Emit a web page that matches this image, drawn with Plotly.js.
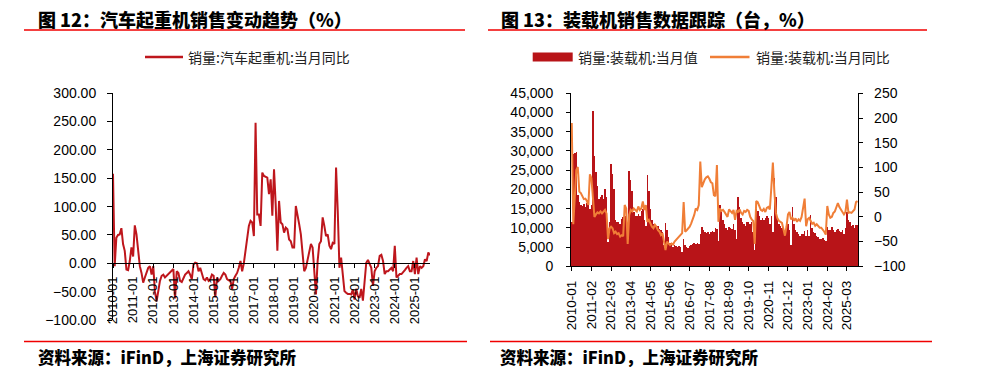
<!DOCTYPE html>
<html><head><meta charset="utf-8">
<script src="https://cdn.plot.ly/plotly-3.0.1.min.js"></script>
<style>html,body{margin:0;padding:0;background:#fff}#chart{width:987px;height:387px}</style>
</head><body><div id="chart"></div>
<script>
// ---- data (monthly, starting 2010-01) ----
const startYear = 2010;
const startMonth = 1;

// 销量:汽车起重机:当月同比 (%)
const craneYoY = [
  158, -5, 45, 50, 51, 62, 34, 22, -11, -12, 4, 28,
  12, 67, 51, 16, -5, -17, -34, -25, -14, -8, -5, -20,
  -5, -50, -67, -49, -31, -22, -20, -25, -22, -20, -17, -14,
  -10, -62, -14, -17, -31, -33, -25, -20, -17, -14, -20, -28,
  -2, 1, 0, -14, -8, -20, -28, -30, -25, -31, -28, -20,
  -22, -60, -25, -31, -28, -22, -17, -20, -28, -30, -31, -46,
  -28, -22, -17, -8, 4, -14, 0, 22, 45, 66, 75, 72,
  48, 248, 86, 86, 66, 160, 154, 152, 151, 122, 148, 84,
  166, 104, 22, 110, 72, 69, 54, 63, 60, 42, 39, 28,
  28, 101, 81, 69, 51, 10, -14, -8, 7, 19, 34, 28,
  -14, -55, 4, 34, 39, 81, 66, 48, 51, 31, 25, 36,
  34, 169, 92, -8, 10, -14, -49, -52, -54, -54, -55, -46,
  -64, -45, -58, -61, -45, -66, -25, 1, 6, 0, -8, -40,
  -14, -8, -5, 13, 15, 4, -19, -14, -14, -11, -8, -14,
  31, -25, -22, -19, -19, -16, -12, -8, -5, -14, -14, 4,
  -19, 10, -19, -5, -8, -5, 7, 4, 19, 14
];

// 销量:装载机:当月值 (台)
const loaderSales = [
  11400, 29200, 29500, 29700, 18500, 16800, 16000, 15800, 16300, 15500, 16500, 18600,
  15000, 16000, 40300, 28800, 24500, 21000, 17500, 18100, 18600, 17600, 20100, 18000,
  6400, 11500, 26600, 24000, 20000, 12100, 11500, 11600, 11000, 12300, 12900, 14700,
  13000, 5800, 24800, 22500, 19500, 14000, 13000, 13200, 13500, 13000, 14500, 15000,
  12000, 10500, 23800, 19500, 15000, 12000, 11000, 10500, 10000, 10500, 9800, 9500,
  9000, 5500, 11200, 9500, 7500, 6000, 5500, 5000, 5500, 5200, 5000, 5300,
  5000, 3800, 7000, 5500, 5000, 4800, 5200, 5500, 5800, 6000, 5800, 6000,
  5700, 8500, 10100, 9500, 9000, 8600, 9000, 8500, 9000, 9200, 9000, 9900,
  9600, 6500, 16000, 14000, 12000, 11000, 10000, 9500, 10300, 10000, 9800, 11000,
  9500, 7200, 18100, 15500, 12500, 11500, 11000, 10500, 11500, 11500, 11000, 11500,
  9000, 4200, 15000, 14500, 13000, 12000, 12500, 12000, 12500, 13000, 12500, 11000,
  13000, 8800, 22900, 18100, 12000, 11000, 10500, 10000, 9500, 9000, 9800, 11000,
  9500, 5500, 15300, 11000, 9500, 9000, 8500, 8000, 8500, 8500, 9200, 8000,
  9500, 8000, 13400, 9900, 9000, 8600, 7800, 7500, 7200, 7000, 7300, 6800,
  6500, 10300, 9500, 9500, 10300, 9500, 9000, 9500, 9800, 9200, 9000, 9500,
  8500, 9900, 14200, 12000, 11500, 10500, 10800, 10000, 10800, 10800
];

// 销量:装载机:当月同比 (%)
const loaderYoY = [
  190, -15, 40, 95, 101, 51, 48, 41, 36, 37, 32, 24,
  86, 78, 31, 0, 5, 9, 7, 11, 7, 11, 14, 7,
  -45, -23, -20, -23, -33, -30, -35, -33, -40, -37, -39, 24,
  17, -55, 4, 14, 11, 17, 14, 11, 21, 14, 17, 31,
  14, 24, -10, -6, -13, -20, -23, -16, -20, -27, -30, -37,
  -33, -50, -67, -50, -54, -57, -54, -56, -50, -47, -43, -40,
  -37, -33, 30, -30, -27, -23, -20, -13, -6, 4, 17, 14,
  24, 112, 60, 70, 76, 80, 82, 77, 70, 68, 44, 42,
  105, -10, 17, 12, 14, 10, 5, 0, 15, 11, 8, 14,
  -6, 12, 10, 15, 8, 5, 12, 10, 14, 12, 0, -5,
  -8, -55, 32, 30, 20, 14, 12, 16, 10, 18, 20, 15,
  60, 110, 50, 8, -3, -8, -10, -12, -25, -38, -20, 5,
  10, -5, -2, -8, -3, -10, -5, -8, 0, 20, 37, -19,
  -5, -2, -10, -14, -12, -18, -15, -19, -22, -22, -25, -30,
  -36, 22, 5, -2, 0, 8, 11, 22, 28, 20, 15, 12,
  5, 10, 35, 8, 9, 8, 12, 15, 30, 32
];

const craneTicks = ['2010-01','2011-01','2012-01','2013-01','2014-01','2015-01','2016-01','2017-01',
  '2018-01','2019-01','2020-01','2021-01','2022-01','2023-01','2024-01','2025-01'];
const loaderTicks = ['2010-01','2011-02','2012-03','2013-04','2014-05','2015-06','2016-07','2017-08',
  '2018-09','2019-10','2020-11','2021-12','2023-01','2024-02','2025-03'];

const titleLeft = '图 12：汽车起重机销售变动趋势（%）';
const titleRight = '图 13：装载机销售数据跟踪（台，%）';
const nameCrane = '销量:汽车起重机:当月同比';
const nameLoaderSales = '销量:装载机:当月值';
const nameLoaderYoY = '销量:装载机:当月同比';
const sourceText = '资料来源：iFinD，上海证券研究所';

// ---- helpers ----
function monthLabels(n) {
  const out = [];
  let y = startYear, m = startMonth;
  for (let i = 0; i < n; i++) {
    out.push(y + '-' + (m < 10 ? '0' + m : '' + m));
    m++; if (m > 12) { m = 1; y++; }
  }
  return out;
}
const months = monthLabels(craneYoY.length);

const W = 987, H = 387;
const px = v => v / W;
const py = v => 1 - v / H;

const cRed = '#BE161C';
const cBar = '#B81418';
const cOrange = '#F07E37';
const cRule = '#F00000';
const tickFamily = '"Liberation Sans", Arial, sans-serif';
const cjkFamily = '"Noto Sans CJK SC", "Noto Sans", sans-serif';

// left plot geometry
const lyDom = [py(320), py(93.2)];
const lyRange = [-100, 300];
const zeroPos = lyDom[0] + (0 - lyRange[0]) / (lyRange[1] - lyRange[0]) * (lyDom[1] - lyDom[0]);

const traces = [
  { type: 'scatter', mode: 'lines', x: months, y: craneYoY, xaxis: 'x', yaxis: 'y',
    name: nameCrane, line: { color: cRed, width: 2 }, showlegend: false, hoverinfo: 'skip' },
  { type: 'bar', x: months, y: loaderSales, xaxis: 'x2', yaxis: 'y2', name: nameLoaderSales,
    marker: { color: cBar, line: { width: 0 } }, showlegend: false, hoverinfo: 'skip' },
  { type: 'scatter', mode: 'lines', x: months, y: loaderYoY, xaxis: 'x2', yaxis: 'y3',
    name: nameLoaderYoY, line: { color: cOrange, width: 2 }, showlegend: false, hoverinfo: 'skip' }
];

const tickFont = { family: tickFamily, size: 14, color: '#000' };
const xTickFont = { family: tickFamily, size: 13, color: '#000' };
const xTickFont2 = { family: tickFamily, size: 13.5, color: '#000' };
const titleFont = { family: cjkFamily, size: 18, color: '#000', weight: 900 };
const sourceFont = { family: cjkFamily, size: 16.5, color: '#000', weight: 900 };
const legendFont = { family: cjkFamily, size: 14, color: '#222' };

const layout = {
  width: W, height: H,
  margin: { l: 0, r: 0, t: 0, b: 0, pad: 0 },
  paper_bgcolor: '#fff', plot_bgcolor: 'rgba(0,0,0,0)',
  showlegend: false,
  bargap: 0,
  xaxis: {
    domain: [px(113), px(430)], anchor: 'free', position: zeroPos,
    type: 'category', range: [0, craneYoY.length - 1],
    tickmode: 'array', tickvals: craneTicks, ticktext: craneTicks, tickangle: -90,
    ticks: 'outside', ticklen: 4, tickcolor: '#000', ticklabelstandoff: 3,
    showline: true, linecolor: '#000', linewidth: 1,
    showgrid: false, zeroline: false, tickfont: xTickFont, fixedrange: true
  },
  yaxis: {
    domain: lyDom, anchor: 'x', range: lyRange, tickmode: 'linear', tick0: 0, dtick: 50,
    tickformat: '.2f', ticks: 'outside', ticklen: 5, tickcolor: '#000', ticklabelstandoff: 8,
    showline: true, linecolor: '#000', linewidth: 1,
    showgrid: false, zeroline: false, tickfont: tickFont, fixedrange: true
  },
  xaxis2: {
    domain: [px(571), px(858.3)], anchor: 'y2',
    type: 'category', range: [-0.5, loaderSales.length - 0.5],
    tickmode: 'array', tickvals: loaderTicks, ticktext: loaderTicks, tickangle: -90,
    ticks: 'outside', ticklen: 4, tickcolor: '#000', ticklabelstandoff: 4,
    showline: true, linecolor: '#000', linewidth: 1,
    showgrid: false, zeroline: false, tickfont: xTickFont2, fixedrange: true
  },
  yaxis2: {
    domain: [py(266.3), py(93.3)], anchor: 'x2', range: [0, 45000], tickmode: 'linear',
    tick0: 0, dtick: 5000, tickformat: ',d', ticks: 'outside', ticklen: 4, tickcolor: '#000',
    ticklabelstandoff: 10,
    showline: true, linecolor: '#000', linewidth: 1,
    showgrid: false, zeroline: false, tickfont: tickFont, fixedrange: true
  },
  yaxis3: {
    overlaying: 'y2', side: 'right', anchor: 'x2', range: [-100, 250], tickmode: 'linear',
    tick0: -100, dtick: 50, ticks: 'outside', ticklen: 4, tickcolor: '#000', ticklabelstandoff: 8,
    showline: true, linecolor: '#000', linewidth: 1,
    showgrid: false, zeroline: false, tickfont: tickFont, fixedrange: true
  },
  shapes: [
    // title rules
    { type: 'line', xref: 'paper', yref: 'paper', x0: px(24), x1: px(465), y0: py(30), y1: py(30), line: { color: cRule, width: 1.5 } },
    { type: 'line', xref: 'paper', yref: 'paper', x0: px(488), x1: px(927), y0: py(30), y1: py(30), line: { color: cRule, width: 1.5 } },
    // source rules
    { type: 'line', xref: 'paper', yref: 'paper', x0: px(24), x1: px(467), y0: py(341.5), y1: py(341.5), line: { color: cRule, width: 1.5 } },
    { type: 'line', xref: 'paper', yref: 'paper', x0: px(490), x1: px(932), y0: py(341.5), y1: py(341.5), line: { color: cRule, width: 1.5 } },
    // legend symbols
    { type: 'line', xref: 'paper', yref: 'paper', x0: px(145), x1: px(183), y0: py(57), y1: py(57), line: { color: cRed, width: 2.5 } },
    { type: 'rect', xref: 'paper', yref: 'paper', x0: px(532.7), x1: px(572.7), y0: py(61.5), y1: py(52.5), fillcolor: cBar, line: { width: 0 } },
    { type: 'line', xref: 'paper', yref: 'paper', x0: px(710), x1: px(749.5), y0: py(57), y1: py(57), line: { color: cOrange, width: 2.5 } }
  ],
  annotations: [
    { xref: 'paper', yref: 'paper', x: px(36), y: py(19), xanchor: 'left', yanchor: 'middle', showarrow: false,
      text: titleLeft, font: titleFont },
    { xref: 'paper', yref: 'paper', x: px(499), y: py(19), xanchor: 'left', yanchor: 'middle', showarrow: false,
      text: titleRight, font: titleFont },
    { xref: 'paper', yref: 'paper', x: px(186), y: py(57), xanchor: 'left', yanchor: 'middle', showarrow: false,
      text: nameCrane, font: legendFont },
    { xref: 'paper', yref: 'paper', x: px(576), y: py(57), xanchor: 'left', yanchor: 'middle', showarrow: false,
      text: nameLoaderSales, font: legendFont },
    { xref: 'paper', yref: 'paper', x: px(754), y: py(57), xanchor: 'left', yanchor: 'middle', showarrow: false,
      text: nameLoaderYoY, font: legendFont },
    { xref: 'paper', yref: 'paper', x: px(36), y: py(357), xanchor: 'left', yanchor: 'middle', showarrow: false,
      text: sourceText, font: sourceFont },
    { xref: 'paper', yref: 'paper', x: px(498), y: py(357), xanchor: 'left', yanchor: 'middle', showarrow: false,
      text: sourceText, font: sourceFont }
  ]
};

Plotly.newPlot('chart', traces, layout, { staticPlot: true, displayModeBar: false });
</script>
</body></html>
